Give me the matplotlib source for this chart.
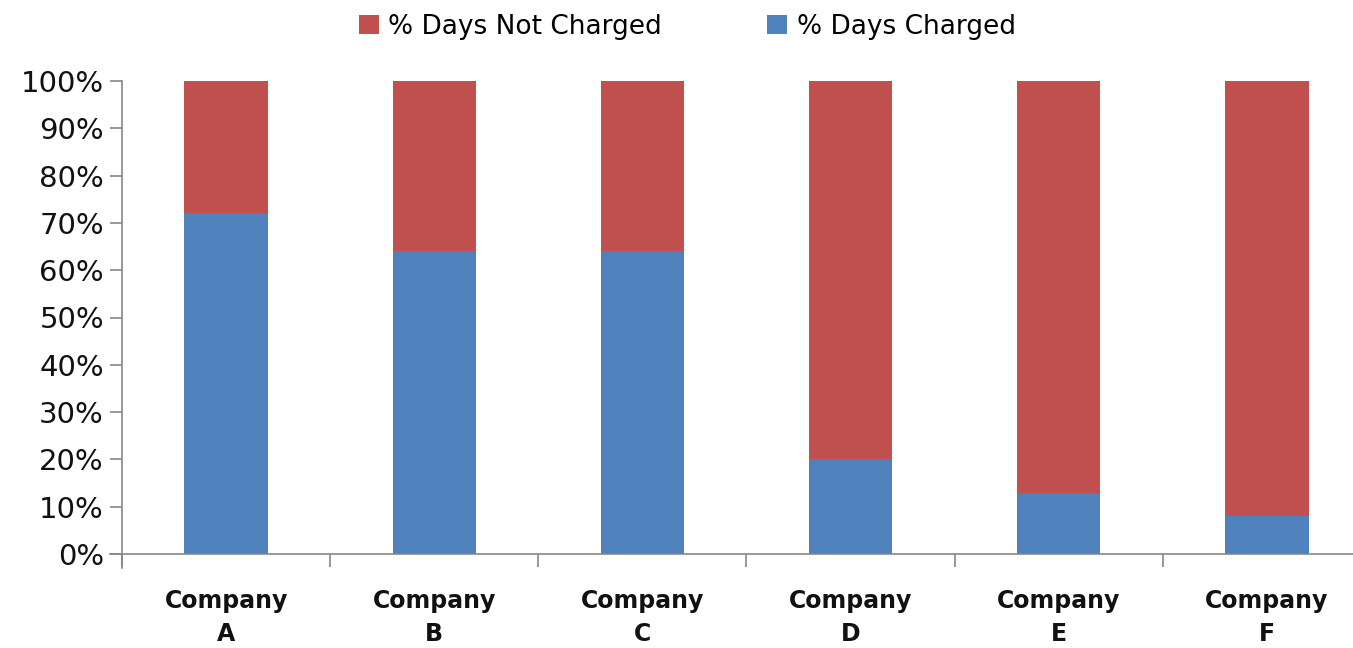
import matplotlib
matplotlib.use("Agg")
import matplotlib.pyplot as plt
import numpy as np

categories = ["Company\nA", "Company\nB", "Company\nC", "Company\nD", "Company\nE", "Company\nF"]
charged = [72, 64, 64, 20, 13, 8]
not_charged = [100 - v for v in charged]
yticks = [0, 10, 20, 30, 40, 50, 60, 70, 80, 90, 100]
ytick_labels = [f"{v}%" for v in yticks]

blue = "#4F81BD"
red = "#C0504D"
axcol = "#888888"

plt.rcParams['font.family'] = ['DejaVu Sans']

W, H = 1353, 648
fig = plt.figure(figsize=(W / 100, H / 100), dpi=100)
left, right, top, bottom = 122, 1371, 81, 554
ax = fig.add_axes([left / W, 1 - bottom / H, (right - left) / W, (bottom - top) / H])

x = np.arange(len(categories))
b1 = ax.bar(x, charged, width=0.4, color=blue, label="% Days Charged", zorder=2)
b2 = ax.bar(x, not_charged, width=0.4, bottom=charged, color=red, label="% Days Not Charged", zorder=2)

ax.set_xlim(-0.5, len(categories) - 0.5)
ax.set_ylim(0, 100)
ax.set_yticks(yticks)
ax.set_yticklabels(ytick_labels, fontsize=21, color="#111111")
ax.set_xticks(x)
ax.set_xticklabels(categories, fontsize=17, fontweight="bold", color="#111111", linespacing=1.5)
ax.set_xticks(np.arange(0.5, len(categories) - 0.5, 1), minor=True)
ax.tick_params(axis='x', which='major', length=0, pad=25)
ax.tick_params(axis='x', which='minor', length=9, width=1.2, color=axcol, direction='out')
ax.tick_params(axis='y', length=9, width=1.2, color=axcol, direction='out', pad=4)

for s in ['top', 'right']:
    ax.spines[s].set_visible(False)
for s in ['left', 'bottom']:
    ax.spines[s].set_color(axcol)
    ax.spines[s].set_linewidth(1.2)
ax.spines['bottom'].set_bounds(-0.5 - 12/208, len(categories) - 0.5)
ax.spines['left'].set_bounds(-3, 100)

ax.plot([-0.5, -0.5], [0, -12 / 4.73], color=axcol, lw=1.2, clip_on=False)

fig.legend(handles=[b2, b1], labels=["% Days Not Charged", "% Days Charged"],
           loc='center', bbox_to_anchor=(0.508, 1 - 27 / H), ncol=2, frameon=False,
           fontsize=19, handlelength=0.75, handleheight=0.75, handletextpad=0.35,
           columnspacing=4.0)

fig.savefig("out.png", dpi=100)
